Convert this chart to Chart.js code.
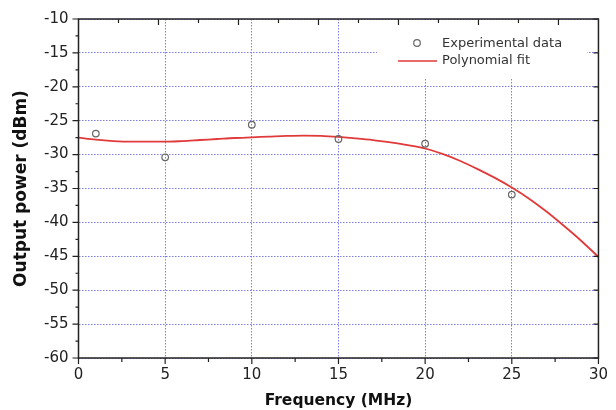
<!DOCTYPE html>
<html>
<head>
<meta charset="utf-8">
<script src="https://cdn.jsdelivr.net/npm/chart.js@4"></script>
<style>
    html, body { margin: 0; padding: 0; background: #fff; }
    .wrap { width: 616px; height: 410px; position: relative; }
</style>
</head>
<body>
<div class="wrap"><canvas id="c"></canvas></div>
<script>
// measured points
const expFreq = [1, 5, 10, 15, 20, 25];
const expPower = [-26.9, -30.4, -25.6, -27.7, -28.4, -35.9];

// polynomial fit
const fitFreq = [0, 1, 2, 3, 4, 5, 6, 7, 8, 9, 10, 11, 12, 13, 14, 15,
    16, 17, 18, 19, 20, 21, 22, 23, 24, 25, 26, 27, 28, 29, 30];
const fitPower = [-27.5, -27.8, -28.0, -28.1, -28.1, -28.1, -28.0, -27.85, -27.7, -27.55, -27.45,
    -27.35, -27.25, -27.2, -27.25, -27.4, -27.6, -27.85, -28.2, -28.6, -29.1,
    -29.9, -30.9, -32.1, -33.4, -34.85, -36.5, -38.4, -40.5, -42.7, -45.1];

const xTicks = [0, 5, 10, 15, 20, 25, 30];
const yTicks = [-10, -15, -20, -25, -30, -35, -40, -45, -50, -55, -60];

const FONT = "'DejaVu Sans', sans-serif";

// 坐标框、刻度和图例
const framePlugin = {
    id: 'frame',
    beforeDatasetsDraw(chart) {
        const ctx = chart.ctx;
        ctx.save();
        ctx.fillStyle = '#fff';
        ctx.fillRect(377, chart.chartArea.top + 1, 210, 59);
        ctx.restore();
    },
    afterDatasetsDraw(chart) {
        const ctx = chart.ctx;
        ctx.save();
        ctx.font = '13px ' + FONT;
        ctx.fillStyle = '#333';
        ctx.textBaseline = 'middle';
        ctx.beginPath();
        ctx.arc(417, 43, 3.3, 0, Math.PI * 2);
        ctx.strokeStyle = '#666';
        ctx.lineWidth = 1.2;
        ctx.stroke();
        ctx.fillText('Experimental data', 442, 44);
        ctx.beginPath();
        ctx.moveTo(398, 61);
        ctx.lineTo(437, 61);
        ctx.strokeStyle = '#e03a3a';
        ctx.lineWidth = 1.7;
        ctx.stroke();
        ctx.fillText('Polynomial fit', 442, 61);
        ctx.restore();
    },
    afterDraw(chart) {
        const ctx = chart.ctx;
        const a = chart.chartArea;
        const xs = chart.scales.x;
        const ys = chart.scales.y;
        ctx.save();
        ctx.strokeStyle = '#222';
        ctx.lineWidth = 1.5;
        ctx.strokeRect(a.left, a.top, a.right - a.left, a.bottom - a.top);
        ctx.lineWidth = 1.2;
        ctx.beginPath();
        // bottom: outward
        for (let v = 0; v <= 30; v += 2.5) {
            const px = xs.getPixelForValue(v);
            const len = v % 5 === 0 ? 6 : 4;
            ctx.moveTo(px, a.bottom);
            ctx.lineTo(px, a.bottom + len);
        }
        // top: inward, own spacing
        for (let k = 1; k < 13; k++) {
            const px = xs.getPixelForValue(k * 30 / 13);
            const len = k % 2 === 0 ? 6 : 4;
            ctx.moveTo(px, a.top);
            ctx.lineTo(px, a.top + len);
        }
        // left: outward
        for (let v = -60; v <= -10; v += 2.5) {
            const py = ys.getPixelForValue(v);
            const len = v % 5 === 0 ? 6 : 3;
            ctx.moveTo(a.left, py);
            ctx.lineTo(a.left - len, py);
        }
        // right: inward
        yTicks.forEach((v) => {
            const py = ys.getPixelForValue(v);
            ctx.moveTo(a.right, py);
            ctx.lineTo(a.right - 5, py);
        });
        ctx.stroke();
        ctx.restore();
    }
};

const gridOpts = {
    color: 'rgb(125,125,238)',
    lineWidth: 1,
    drawTicks: false,
};

new Chart(document.getElementById('c'), {
    type: 'scatter',
    data: {
        datasets: [
            {
                label: 'Experimental data',
                data: expFreq.map((f, i) => ({ x: f, y: expPower[i] })),
                pointRadius: 3.3,
                pointBorderColor: '#666',
                pointBackgroundColor: 'rgba(255,255,255,0)',
                pointBorderWidth: 1.2,
                showLine: false,
            },
            {
                label: 'Polynomial fit',
                data: fitFreq.map((f, i) => ({ x: f, y: fitPower[i] })),
                showLine: true,
                pointRadius: 0,
                borderColor: '#e03a3a',
                borderWidth: 1.8,
                cubicInterpolationMode: 'monotone',
            },
        ],
    },
    options: {
        responsive: true,
        maintainAspectRatio: false,
        animation: false,
        layout: { padding: { top: 16, right: 12.5, left: 0, bottom: 0 } },
        plugins: {
            legend: { display: false },
            tooltip: { enabled: false },
        },
        scales: {
            x: {
                type: 'linear',
                min: 0,
                max: 30,
                afterBuildTicks: (s) => { s.ticks = xTicks.map((v) => ({ value: v })); },
                afterFit: (s) => { s.height = 52; },
                grid: gridOpts,
                border: { display: false, dash: [1.5, 1.5] },
                ticks: {
                    padding: 8,
                    color: '#222',
                    font: { family: FONT, size: 15 },
                },
                title: {
                    display: true,
                    text: 'Frequency (MHz)',
                    color: '#111',
                    font: { family: FONT, size: 15.5, weight: 'bold' },
                    padding: { top: 0, bottom: 0 },
                },
            },
            y: {
                type: 'linear',
                min: -60,
                max: -10,
                afterBuildTicks: (s) => { s.ticks = yTicks.map((v) => ({ value: v })); },
                afterFit: (s) => { s.width = 78.5; },
                grid: gridOpts,
                border: { display: false, dash: [1.5, 1.5] },
                ticks: {
                    padding: 10,
                    color: '#222',
                    font: { family: FONT, size: 15 },
                },
                title: {
                    display: true,
                    text: 'Output power (dBm)',
                    color: '#111',
                    font: { family: FONT, size: 17, weight: 'bold' },
                    padding: { top: 11, bottom: 0 },
                },
            },
        },
    },
    plugins: [framePlugin],
});
</script>
</body>
</html>
